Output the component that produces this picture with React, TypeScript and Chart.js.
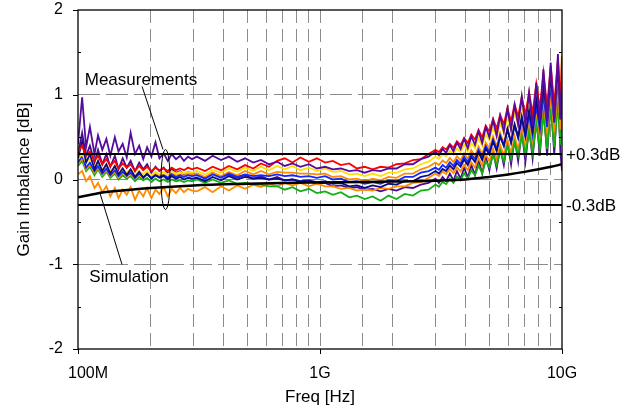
import { useEffect, useRef } from 'react';
import { Chart, registerables } from 'chart.js';

Chart.register(...registerables);

// Frequency points (MHz) shared by all measurement traces
const FREQ_MHZ = [
  100, 104, 108, 112, 117, 121, 126, 131, 136, 142,
  147, 153, 159, 165, 172, 179, 186, 193, 201, 209,
  217, 226, 235, 244, 254, 264, 274, 285, 296,
  310, 335, 360, 390, 420, 455, 490, 530, 570, 615,
  665, 715, 770, 830, 900, 970, 1050, 1130, 1220, 1320,
  1420, 1530, 1650, 1780, 1920, 2070, 2240, 2420, 2610, 2810,
  3000, 3100, 3210, 3320, 3440, 3560, 3680, 3810, 3940, 4080,
  4220, 4370, 4520, 4680, 4840, 5010, 5190, 5370, 5550, 5750,
  5950, 6160, 6370, 6590, 6820, 7060, 7310, 7560, 7830, 8100,
  8380, 8680, 8980, 9290, 9620, 9850, 10000,
];

const PURPLE_A = [
  .42, .97, .38, .62, .30, .52, .35, .48, .28, .50,
  .33, .42, .26, .55, .30, .40, .24, .38, .27, .44,
  .25, .31, .22, .30, .24, .28, .22, .27, .24,
  .27, .22, .28, .23, .27, .21, .25, .20, .23, .18,
  .21, .16, .19, .15, .18, .13, .15, .12, .13, .10,
  .11, .08, .11, .10, .13, .13, .18, .18, .24, .27,
  .33, .285, .36, .315, .405, .33, .435, .36, .48, .37,
  .51, .41, .57, .43, .62, .50, .70, .515, .75, .565,
  .835, .585, .88, .64, .98, .64, 1.02, .63, 1.14, .69,
  1.30, .68, 1.38, .68, 1.48, .71, 1.20,
];

const PURPLE_B = [
  .30, .55, .28, .40, .20, .35, .18, .30, .15, .28,
  .12, .25, .14, .22, .10, .20, .12, .18, .08, .15,
  .10, .14, .07, .12, .08, .10, .06, .09, .07,
  .07, .02, .08, .03, .06, .02, .05, .01, .04, .00,
  .03, -.01, .00, -.03, -.02, -.05, -.04, -.08, -.07, -.10,
  -.09, -.12, -.11, -.14, -.11, -.13, -.09, -.10, -.06, -.04,
  .01, -.04, .03, -.02, .07, -.015, .10, .01, .14, .025,
  .17, .055, .23, .07, .27, .11, .33, .13, .37, .17,
  .445, .175, .485, .215, .57, .21, .615, .25, .735, .28,
  .885, .28, .95, .30, 1.03, .32, .10,
];

const RED = [
  .32, .40, .28, .33, .22, .28, .18, .24, .16, .22,
  .13, .19, .14, .18, .10, .16, .11, .15, .10, .14,
  .11, .13, .10, .14, .11, .13, .11, .14, .12,
  .14, .10, .15, .11, .16, .12, .17, .13, .19, .15,
  .22, .25, .20, .26, .21, .25, .20, .22, .17, .19,
  .13, .15, .12, .15, .14, .18, .19, .23, .24, .30,
  .35, .325, .38, .355, .42, .375, .45, .405, .49, .43,
  .53, .47, .585, .495, .635, .565, .715, .60, .765, .65,
  .84, .685, .89, .74, .975, .76, 1.03, .78, 1.13, .84,
  1.26, .86, 1.34, .88, 1.42, .91, 1.45,
];

const YELLOW = [
  .24, .30, .20, .25, .15, .21, .12, .17, .10, .15,
  .07, .13, .08, .12, .05, .10, .06, .10, .05, .09,
  .06, .09, .06, .10, .07, .09, .07, .09, .08,
  .10, .06, .11, .08, .13, .09, .14, .10, .15, .11,
  .16, .12, .16, .11, .14, .10, .13, .09, .10, .06,
  .07, .04, .07, .04, .08, .08, .12, .13, .18, .21,
  .27, .245, .30, .275, .34, .295, .37, .325, .41, .33,
  .43, .37, .485, .395, .535, .465, .615, .50, .665, .55,
  .74, .585, .79, .64, .875, .66, .91, .66, 1.01, .72,
  1.14, .74, 1.22, .76, 1.30, .79, 1.62,
];

const ORANGE_A = [
  .18, .25, .12, .18, .08, .14, .05, .11, .04, .09,
  .02, .08, .03, .07, .01, .06, .02, .06, .03, .07,
  .04, .06, .03, .07, .05, .06, .04, .07, .06,
  .07, .03, .08, .04, .09, .05, .10, .06, .10, .06,
  .09, .08, .08, .07, .07, .06, .07, .03, .04, .00,
  .01, -.02, .01, -.01, .03, .02, .07, .07, .12, .15,
  .20, .17, .225, .195, .255, .205, .275, .225, .31, .245,
  .345, .28, .39, .30, .435, .365, .51, .39, .55, .43,
  .61, .45, .65, .495, .72, .50, .765, .51, .85, .55,
  .96, .555, 1.03, .565, 1.10, .59, .90,
];

const BLUE = [
  .20, .28, .14, .20, .10, .16, .07, .13, .05, .11,
  .04, .09, .05, .08, .02, .07, .03, .06, .02, .05,
  .03, .05, .02, .06, .03, .05, .03, .05, .04,
  .05, .01, .06, .02, .07, .03, .06, .04, .05, .04,
  .06, .04, .05, .03, .04, .02, .04, .00, .01, -.03,
  -.02, -.05, -.03, -.05, -.01, -.02, .03, .03, .08, .10,
  .14, .115, .17, .14, .205, .16, .23, .185, .27, .205,
  .30, .24, .35, .26, .395, .325, .47, .355, .52, .40,
  .59, .43, .635, .485, .715, .50, .77, .525, .875, .59,
  1.01, .62, 1.12, .67, 1.22, .71, 1.00,
];

const NAVY = [
  .25, .45, .20, .30, .12, .22, .10, .18, .07, .16,
  .06, .13, .05, .12, .03, .09, .02, .07, .01, .05,
  .02, .04, .00, .04, .01, .03, .00, .02, .01,
  .02, -.02, .03, -.01, .04, .00, .03, .01, .02, .00,
  .01, -.01, .00, -.02, -.01, -.03, -.02, -.05, -.04, -.08,
  -.07, -.10, -.07, -.09, -.05, -.06, -.02, -.02, .03, .05,
  .10, .07, .125, .10, .165, .12, .195, .15, .235, .17,
  .265, .205, .32, .23, .365, .295, .45, .335, .505, .395,
  .59, .44, .65, .505, .745, .53, .815, .58, .945, .67,
  1.11, .73, 1.22, .77, 1.32, .81, 1.05,
];

const GREEN = [
  .16, .22, .10, .15, .05, .12, .03, .09, .02, .07,
  .00, .05, .01, .04, -.02, .03, -.01, .02, -.03, .01,
  -.02, .00, -.03, .00, -.02, -.01, -.03, -.01, -.02,
  .00, -.04, .00, -.04, -.01, -.05, -.04, -.06, -.06, -.08,
  -.08, -.12, -.09, -.14, -.11, -.16, -.14, -.18, -.15, -.21,
  -.19, -.23, -.20, -.25, -.19, -.23, -.17, -.19, -.13, -.12,
  -.06, -.085, -.03, -.055, .01, -.04, .035, -.01, .075, .01,
  .11, .05, .165, .075, .215, .145, .29, .17, .335, .215,
  .40, .24, .44, .285, .515, .30, .565, .31, .655, .36,
  .77, .36, .84, .38, .92, .41, .70,
];

const ORANGE_B = [
  .06, .10, -.02, .04, -.10, -.04, -.15, -.08, -.20, -.10,
  -.22, -.12, -.18, -.09, -.24, -.13, -.20, -.10, -.22, -.12,
  -.17, -.09, -.20, -.11, -.16, -.10, -.15, -.11, -.13,
  -.14, -.09, -.15, -.08, -.13, -.07, -.11, -.06, -.09, -.05,
  -.08, -.04, -.07, -.04, -.08, -.05, -.08, -.08, -.11, -.10,
  -.13, -.12, -.13, -.10, -.11, -.08, -.08, -.04, -.03, .02,
  .07, .04, .095, .065, .125, .075, .145, .095, .175, .11,
  .205, .14, .255, .165, .30, .215, .36, .24, .405, .285,
  .47, .31, .51, .355, .585, .37, .635, .38, .725, .43,
  .84, .43, .90, .44, .98, .47, .85,
];

// Simulation curve
const SIM_FREQ_MHZ = [100, 120, 140, 200, 300, 500, 700, 1000, 1500, 2000, 3000, 4000, 5000, 6000, 7000, 8000, 9000, 10000];
const SIM_DB = [-0.21, -0.165, -0.14, -0.10, -0.07, -0.05, -0.04, -0.035, -0.03, -0.025, -0.015, 0.0, 0.03, 0.06, 0.09, 0.12, 0.15, 0.18];

// Tolerance lines
const LIMIT_DB = [0.3, -0.3];
const LIMIT_LABELS = ['+0.3dB', '-0.3dB'];
const LIMIT_SPAN_MHZ = [100, 10000];

// Axis ticks
const X_LABEL_MHZ = [100, 1000, 10000];
const X_LABEL_TEXT = ['100M', '1G', '10G'];
const Y_MAJOR_TICKS = [-2, -1, 0, 1, 2];
const Y_MINOR_TICKS = [-1.5, -0.5, 0.5, 1.5];

const SERIES = [
  { name: 'Purple A', values: PURPLE_A },
  { name: 'Red', values: RED },
  { name: 'Navy', values: NAVY },
  { name: 'Yellow', values: YELLOW },
  { name: 'Blue', values: BLUE },
  { name: 'Orange A', values: ORANGE_A },
  { name: 'Green', values: GREEN },
  { name: 'Orange B', values: ORANGE_B },
  { name: 'Purple B', values: PURPLE_B },
];
const SERIES_COLORS = ['#560b9e', '#ff0000', '#0b0b86', '#ffe000', '#1428ff', '#ff8c00', '#12b012', '#ff8c00', '#4a0c8f'];

const FONT = '"Liberation Sans", Arial, Helvetica, sans-serif';

const decorPlugin = {
  id: 'decor',
  afterDraw(chart: any) {
    const { ctx, chartArea: a, scales } = chart;
    const X = (mhz: number) => scales.x.getPixelForValue(mhz * 1e6);
    const Y = (db: number) => scales.y.getPixelForValue(db);
    const line = (x1: number, y1: number, x2: number, y2: number) => {
      ctx.beginPath();
      ctx.moveTo(x1, y1);
      ctx.lineTo(x2, y2);
      ctx.stroke();
    };
    ctx.save();
    ctx.strokeStyle = '#000';
    ctx.lineWidth = 1.3;
    ctx.strokeRect(a.left, a.top, a.right - a.left, a.bottom - a.top);

    ctx.lineWidth = 1;
    for (const v of Y_MAJOR_TICKS) {
      const y = Math.round(Y(v)) + 0.5;
      line(a.left - 5, y, a.left, y);
    }
    for (const v of Y_MINOR_TICKS) {
      const y = Math.round(Y(v)) + 0.5;
      line(a.left, y, a.left + 3, y);
      line(a.right - 3, y, a.right, y);
    }
    for (const v of X_LABEL_MHZ) {
      const x = Math.round(X(v)) + 0.5;
      line(x, a.bottom, x, a.bottom + 5);
    }

    ctx.fillStyle = '#000';
    ctx.font = `16px ${FONT}`;
    ctx.textAlign = 'center';
    ctx.textBaseline = 'alphabetic';
    X_LABEL_TEXT.forEach((t, i) => {
      ctx.fillText(t, X(X_LABEL_MHZ[i]) + (i === 0 ? 10 : 0), a.bottom + 29);
    });

    ctx.font = `17px ${FONT}`;
    ctx.fillText('Freq [Hz]', (a.left + a.right) / 2, a.bottom + 53);

    ctx.save();
    ctx.translate(24, (a.top + a.bottom) / 2);
    ctx.rotate(-Math.PI / 2);
    ctx.textBaseline = 'middle';
    ctx.fillText('Gain Imbalance [dB]', 0, 0);
    ctx.restore();

    // limit labels
    ctx.textAlign = 'left';
    ctx.textBaseline = 'middle';
    LIMIT_DB.forEach((v, i) => ctx.fillText(LIMIT_LABELS[i], a.right + 4, Y(v) + 1));

    // annotations
    ctx.textAlign = 'center';
    ctx.textBaseline = 'alphabetic';
    ctx.fillText('Measurements', X(182), Y(1.12));
    ctx.fillText('Simulation', X(162.5), Y(-1.215));
    ctx.lineWidth = 1;
    line(X(184), Y(1.097), X(224.5), Y(0.354));
    line(X(123), Y(-0.153), X(152), Y(-1.003));
    ctx.beginPath();
    ctx.ellipse(X(230), Y(0), 4.5, Y(0) - Y(0.354), 0, 0, Math.PI * 2);
    ctx.stroke();
    ctx.restore();
  },
};

const zeroPadding = (s: any) => {
  s.paddingTop = 0;
  s.paddingBottom = 0;
  s.paddingLeft = 0;
  s.paddingRight = 0;
};

export default function App() {
  const ref = useRef<HTMLCanvasElement | null>(null);

  useEffect(() => {
    document.body.style.margin = '0';
    const canvas = ref.current;
    if (!canvas) return;

    const measDatasets = SERIES.map((s, i) => ({
      label: s.name,
      data: FREQ_MHZ.map((f, j) => ({ x: f * 1e6, y: s.values[j] })),
      borderColor: SERIES_COLORS[i],
      borderWidth: 1.8,
      pointRadius: 0,
      tension: 0,
      fill: false,
      order: 10 + i,
    }));

    const limitDatasets = LIMIT_DB.map((v, i) => ({
      label: LIMIT_LABELS[i],
      data: LIMIT_SPAN_MHZ.map((f) => ({ x: f * 1e6, y: v })),
      borderColor: '#000',
      borderWidth: 2,
      pointRadius: 0,
      fill: false,
      order: 1,
    }));

    const simDataset = {
      label: 'Simulation',
      data: SIM_FREQ_MHZ.map((f, j) => ({ x: f * 1e6, y: SIM_DB[j] })),
      borderColor: '#000',
      borderWidth: 2.5,
      pointRadius: 0,
      cubicInterpolationMode: 'monotone',
      fill: false,
      order: 0,
    };

    const chart = new Chart(canvas, {
      type: 'line',
      data: { datasets: [simDataset, ...limitDatasets, ...measDatasets] as any },
      options: {
        animation: false,
        responsive: false,
        events: [],
        layout: { padding: { top: 10, right: 81, left: 0, bottom: 0 } },
        plugins: { legend: { display: false }, tooltip: { enabled: false } },
        scales: {
          x: {
            type: 'logarithmic',
            min: 1e8,
            max: 1e10,
            afterFit: (s: any) => { s.height = 63; zeroPadding(s); },
            ticks: { display: false, autoSkip: false },
            grid: {
              drawTicks: false,
              lineWidth: 1,
              color: (c: any) => {
                const v = c.tick ? c.tick.value : 0;
                return v <= 1e8 * 1.001 || v >= 1e10 * 0.999 ? 'rgba(0,0,0,0)' : '#8c8c8c';
              },
            },
            border: { display: false, dash: [13, 6] },
          },
          y: {
            type: 'linear',
            min: -2,
            max: 2,
            afterFit: (s: any) => { s.width = 78; zeroPadding(s); },
            ticks: {
              stepSize: 0.5,
              autoSkip: false,
              padding: 15,
              color: '#000',
              font: { size: 16, family: FONT },
              callback: (v: any) => (Number.isInteger(Number(v)) ? String(v) : ''),
            },
            grid: {
              drawTicks: false,
              lineWidth: 1,
              color: (c: any) => {
                const v = c.tick ? c.tick.value : 0;
                return Number.isInteger(v) && Math.abs(v) < 2 ? '#8c8c8c' : 'rgba(0,0,0,0)';
              },
            },
            border: { display: false, dash: [22, 6] },
          },
        },
      },
      plugins: [decorPlugin],
    });

    return () => chart.destroy();
  }, []);

  return (
    <div style={{ width: 643, height: 412 }}>
      <canvas ref={ref} width={643} height={412} style={{ display: 'block' }} />
    </div>
  );
}
